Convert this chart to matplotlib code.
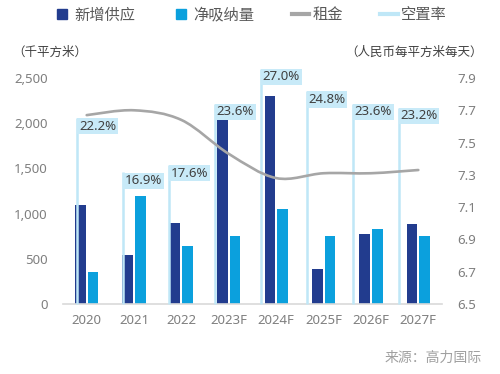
import numpy as np
import matplotlib
matplotlib.use("Agg")
import matplotlib.pyplot as plt
from matplotlib.path import Path
from matplotlib.patches import PathPatch
from matplotlib.lines import Line2D
from matplotlib.ticker import FuncFormatter

plt.rcParams['font.family'] = ['Noto Sans', 'Noto Sans CJK SC', 'DejaVu Sans']
CJK = ['Noto Sans CJK SC', 'DejaVu Sans']

years = ["2020", "2021", "2022", "2023F", "2024F", "2025F", "2026F", "2027F"]
new_supply = [1090, 540, 900, 2030, 2300, 390, 770, 880]
net_absorption = [350, 1200, 640, 750, 1050, 750, 830, 750]
rent = [7.67, 7.70, 7.64, 7.43, 7.28, 7.31, 7.31, 7.33]
vacancy = [22.2, 16.9, 17.6, 23.6, 27.0, 24.8, 23.6, 23.2]

C_DARK = "#223C8E"
C_LIGHT = "#0BA0DD"
C_RENT = "#A6A6A6"
C_VAC = "#BFE7F7"
C_BOX = "#C8EAF8"
C_TICK = "#7F7F7F"
C_TEXT = "#404040"

W, H = 500, 374
fig = plt.figure(figsize=(W / 100, H / 100), dpi=100)
pos = [63 / W, 1 - 304 / H, (442 - 63) / W, (304 - 78) / H]

ax = fig.add_axes(pos, zorder=1)
ax3 = fig.add_axes(pos, zorder=2)
ax2 = fig.add_axes(pos, zorder=3)
for a in (ax2, ax3):
    a.patch.set_visible(False)

x = np.arange(len(years))
bw = 0.225
ax.bar(x - 0.133, new_supply, width=bw, color=C_DARK)
ax.bar(x + 0.133, net_absorption, width=bw, color=C_LIGHT)
ax.set_xlim(-0.5, len(years) - 0.5)
ax.set_ylim(0, 2500)
ax.set_yticks(np.arange(0, 2501, 500))
ax.yaxis.set_major_formatter(FuncFormatter(lambda v, p: f"{int(v):,}"))
ax.set_xticks(x)
ax.set_xticklabels(years)
for s in ("top", "right", "left"):
    ax.spines[s].set_visible(False)
ax.spines["bottom"].set_color("#D9D9D9")
ax.spines["bottom"].set_linewidth(1.2)
ax.tick_params(axis="both", length=0, labelcolor=C_TICK, labelsize=9.5)
ax.tick_params(axis="y", pad=11)
ax.tick_params(axis="x", pad=7)

# vacancy drop lines with labels (hidden axis)
ax3.set_xlim(-0.31, 7.94)
ax3.set_ylim(4.06, 26.09)
ax3.axis("off")
ax3.vlines(x, 4.06, vacancy, color=C_VAC, lw=1.8, clip_on=False)
for xi, v in zip(x, vacancy):
    ax3.annotate(f"{v:.1f}%", xy=(xi, v), xytext=(1.3, -1.3), textcoords="offset points",
                 ha="left", va="top", fontsize=9.5, color=C_TEXT, annotation_clip=False,
                 bbox=dict(boxstyle="square,pad=0.12", fc=C_BOX, ec="none"), zorder=10)

# rent smoothed line on right axis
ax2.set_xlim(-0.5, len(years) - 0.5)
ax2.set_ylim(6.5, 7.9)
ax2.set_yticks(np.round(np.arange(6.5, 7.91, 0.2), 1))
ax2.yaxis.set_major_formatter(FuncFormatter(lambda v, p: f"{v:.1f}"))
ax2.yaxis.tick_right()
ax2.set_xticks([])
for s in ax2.spines.values():
    s.set_visible(False)
ax2.tick_params(axis="y", length=0, labelcolor=C_TICK, labelsize=9.5, pad=11)

pts = np.column_stack([x, rent]).astype(float)
n = len(pts)
verts = [pts[0]]
codes = [Path.MOVETO]
for i in range(n - 1):
    p0 = pts[i - 1] if i > 0 else pts[i]
    p1 = pts[i]
    p2 = pts[i + 1]
    p3 = pts[i + 2] if i + 2 < n else pts[i + 1]
    verts += [p1 + (p2 - p0) / 6, p2 - (p3 - p1) / 6, p2]
    codes += [Path.CURVE4] * 3
ax2.add_patch(PathPatch(Path(verts, codes), fill=False, ec=C_RENT, lw=1.9, capstyle="round"))

# legend
handles = [
    Line2D([], [], marker="s", ls="none", color=C_DARK, markersize=7),
    Line2D([], [], marker="s", ls="none", color=C_LIGHT, markersize=7),
    Line2D([], [], color=C_RENT, lw=3),
    Line2D([], [], color=C_VAC, lw=3),
]
labels = ["新增供应", "净吸纳量", "租金", "空置率"]
fig.legend(handles, labels, loc="center", bbox_to_anchor=(250 / W, 1 - 15 / H), ncol=4,
           frameon=False, fontsize=11, handlelength=1.15, handletextpad=0.2,
           columnspacing=2.45, labelcolor="#595959", prop={'family': CJK, 'size': 11})

fig.text(12 / W, 1 - 52 / H, "（千平方米）", fontsize=9, color=C_TEXT, ha="left", va="center",
         family=CJK)
fig.text(483 / W, 1 - 52 / H, "（人民币每平方米每天）", fontsize=9, color=C_TEXT, ha="right",
         va="center", family=CJK)
fig.text(482 / W, 1 - 358 / H, "来源：高力国际", fontsize=10, color="#A0A0A0", ha="right",
         va="center", family=CJK)

fig.savefig("out.png", dpi=100)
